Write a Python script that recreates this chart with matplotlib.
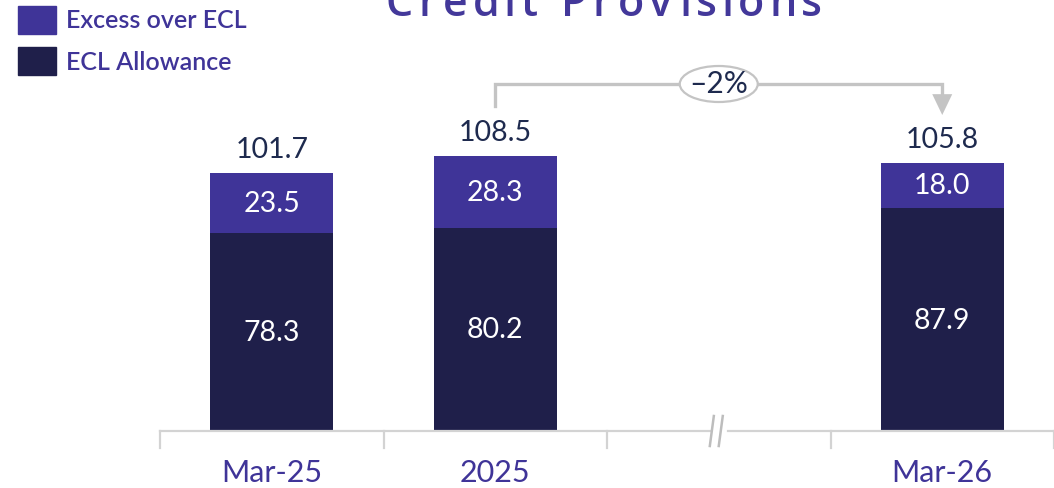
import matplotlib
matplotlib.use("Agg")
import matplotlib.pyplot as plt
from matplotlib.patches import Ellipse, Rectangle
from matplotlib.textpath import TextPath
from matplotlib.font_manager import FontProperties

categories = ["Mar-25", "2025", "Mar-26"]
ecl_allowance = [78.3, 80.2, 87.9]
excess_over_ecl = [23.5, 28.3, 18.0]
totals = [101.7, 108.5, 105.8]
change_label = "\u20132%"
title = "Credit Provisions"

positions = [0, 1, 3]
PURPLE = "#3F3498"
NAVY = "#1F1F4A"
TEXTNAVY = "#1E2A4E"
GRAY = "#C4C4C4"
AXGRAY = "#D3D3D3"

W, H = 1054, 489
fig = plt.figure(figsize=(W / 100, H / 100), dpi=100)
ax = fig.add_axes([160 / W, (H - 432) / H, (1054 - 160) / W, 432 / H])
ax.set_xlim(-0.5, 3.5)
ax.set_ylim(0, 432 / 2.535)
ax.axis("off")

bw = 0.55
ax.bar(positions, ecl_allowance, width=bw, color=NAVY, zorder=2)
ax.bar(positions, excess_over_ecl, width=bw, bottom=ecl_allowance, color=PURPLE, zorder=2)

lab_font = ["Lato", "DejaVu Sans"]
for x, e, ex, t in zip(positions, ecl_allowance, excess_over_ecl, totals):
    ax.text(x, e / 2, f"{e:.1f}", ha="center", va="center", color="white",
            fontsize=20.5, family=lab_font)
    ax.text(x, e + ex / 2, f"{ex:.1f}", ha="center", va="center", color="white",
            fontsize=20.5, family=lab_font)
    ax.annotate(f"{t:.1f}", (x, t), xytext=(0, 8), textcoords="offset points",
                ha="center", va="bottom", color=TEXTNAVY, fontsize=20.5, family=lab_font)

# axis line with break
gap_l, gap_r = 2 - 0.035, 2 + 0.04
ax.plot([-0.5, gap_l], [0, 0], color=AXGRAY, lw=1.6, clip_on=False, zorder=3)
ax.plot([gap_r, 3.5], [0, 0], color=AXGRAY, lw=1.6, clip_on=False, zorder=3)
tick_len = 17 / 2.535
for tx in [-0.5, 0.5, 1.5, 2.5, 3.5]:
    ax.plot([tx, tx], [0, -tick_len], color=AXGRAY, lw=1.6, clip_on=False)
for dx in [-0.04, 0.0]:
    ax.plot([2 + dx, 2 + dx + 0.018], [-15 / 2.535, 15 / 2.535],
            color="#BDBDBD", lw=1.8, clip_on=False, zorder=4)

for x, c in zip(positions, categories):
    ax.text(x, -27 / 2.535, c, ha="center", va="top", color=PURPLE,
            fontsize=22, family="Lato")

# change bracket
y_start = (432 - 107) / 2.535
y_line = (432 - 85) / 2.535
y_tip = (432 - 116) / 2.535
y_head = (432 - 100) / 2.535
ax.plot([1, 1, 3, 3], [y_start, y_line, y_line, y_head], color=GRAY, lw=2.4,
        clip_on=False, solid_joinstyle="miter")
ax.annotate("", xy=(3, y_tip), xytext=(3, y_head + 0.5),
            arrowprops=dict(arrowstyle="-|>,head_width=0.36,head_length=0.75",
                            mutation_scale=20, color=GRAY, lw=0, shrinkA=0, shrinkB=0))
ell = Ellipse((2, (432 - 85) / 2.535), 78 / 223.5, 36 / 2.535, facecolor="white",
              edgecolor=GRAY, lw=1.6, zorder=5, clip_on=False)
ax.add_patch(ell)
ax.text(2, (432 - 84) / 2.535, change_label, ha="center", va="center",
        color=TEXTNAVY, fontsize=21.5, family=lab_font, zorder=6)

# legend
legend_items = [("Excess over ECL", PURPLE, 7), ("ECL Allowance", NAVY, 48)]
for label, col, ytop in legend_items:
    fig.patches.append(Rectangle((18 / W, (H - ytop - 28) / H), 38 / W, 28 / H,
                                 transform=fig.transFigure, color=col))
    fig.text(66 / W, (H - ytop - 14) / H, label, ha="left", va="center",
             color=PURPLE, fontsize=18, family="Lato", fontweight="semibold")

# title (cut off at top in the reference) with letter tracking
tfp = FontProperties(family="Open Sans", weight="semibold", size=31)
px_per_pt = 100 / 72
widths = []
for ch in title:
    if ch == " ":
        widths.append(0.26 * 31)
    else:
        tp = TextPath((0, 0), ch, prop=tfp)
        widths.append(tp.vertices[:, 0].max() if len(tp.vertices) else 0)
widths = [w * px_per_pt for w in widths]
target_w = 435
tracking = (target_w - sum(widths)) / (len(title) - 1)
xpos = 385
for ch, w in zip(title, widths):
    if ch != " ":
        fig.text(xpos / W, (H - 16) / H, ch, ha="left", va="baseline",
                 color="#43389A", fontproperties=tfp)
    xpos += w + tracking

fig.savefig("out.png", dpi=100)
